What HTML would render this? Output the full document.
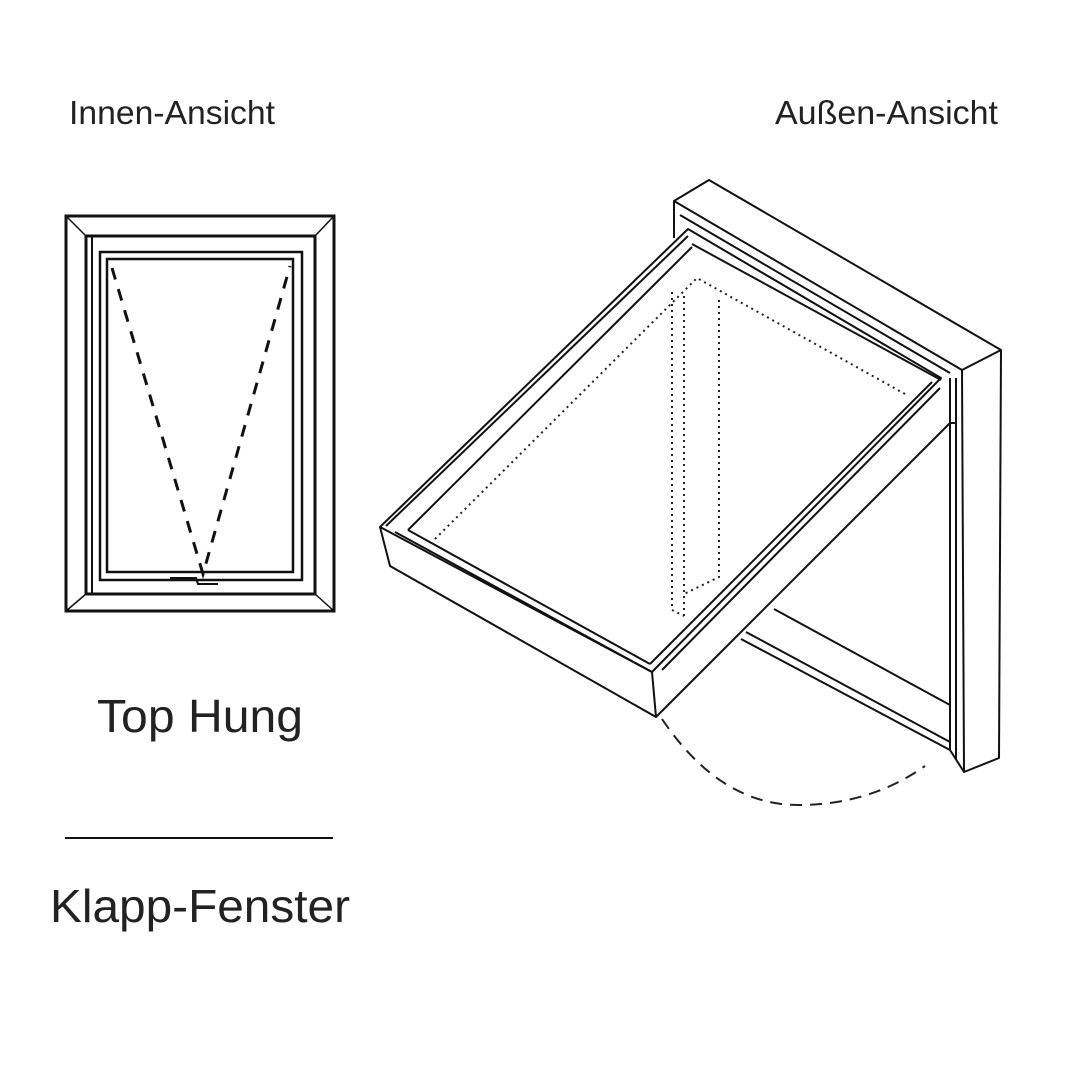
<!DOCTYPE html>
<html><head><meta charset="utf-8"><style>html,body{margin:0;padding:0;background:#fff}</style></head>
<body>
<svg width="1080" height="1080" viewBox="0 0 1080 1080" xmlns="http://www.w3.org/2000/svg" font-family="Liberation Sans, sans-serif">
<rect width="1080" height="1080" fill="#fff"/>
<g fill="#222">
<text x="69" y="124" font-size="33" textLength="206" lengthAdjust="spacingAndGlyphs">Innen-Ansicht</text>
<text x="775" y="124" font-size="33" textLength="223" lengthAdjust="spacingAndGlyphs">Außen-Ansicht</text>
<text x="97" y="732" font-size="46" textLength="206" lengthAdjust="spacingAndGlyphs">Top Hung</text>
<text x="50" y="922" font-size="46" textLength="300" lengthAdjust="spacingAndGlyphs">Klapp-Fenster</text>
</g>
<line x1="65" y1="838" x2="333" y2="838" stroke="#111" stroke-width="2"/>
<!-- left window -->
<g fill="none" stroke="#111" stroke-width="3">
<rect x="66" y="216" width="268" height="395"/>
<rect x="86" y="236" width="229" height="358"/>
<rect x="100" y="252" width="202" height="328" stroke-width="2.5"/>
<rect x="107" y="259" width="186" height="313" stroke-width="2.5"/>
<line x1="66" y1="216" x2="86" y2="236" stroke-width="1.5"/>
<line x1="334" y1="216" x2="315" y2="236" stroke-width="1.5"/>
<line x1="66" y1="611" x2="86" y2="594" stroke-width="1.5"/>
<line x1="334" y1="611" x2="315" y2="594" stroke-width="1.5"/>
<line x1="92" y1="236" x2="92" y2="594" stroke-width="2"/>
<path d="M112 268 L203 574 L290 266" stroke-dasharray="12 10" stroke-width="3"/>
<path d="M170 578 L196 578 L198 584 L218 584" stroke-width="2"/>
</g>
<!-- right: wall frame -->
<g fill="none" stroke="#111" stroke-width="2" stroke-linejoin="round">
<path d="M674 201 L709 180 L1001 350 L999 758 L964 772 L962 370 Z"/>
<line x1="962" y1="370" x2="1001" y2="350"/>
<line x1="674" y1="201" x2="674" y2="238"/>
<line x1="680" y1="215" x2="950" y2="373"/>
<line x1="692" y1="244" x2="941" y2="380"/>
<line x1="950" y1="378" x2="950" y2="750"/>
<line x1="956" y1="378" x2="956" y2="760"/>
<!-- frame bottom bar behind -->
<line x1="774" y1="609" x2="950" y2="705"/>
<line x1="741" y1="639" x2="950" y2="750"/>
<line x1="746" y1="632" x2="950" y2="742"/>
<line x1="950" y1="750" x2="964" y2="772"/>
<line x1="950" y1="423" x2="956" y2="423"/>
<!-- sash -->
<path d="M380 527 L688 229 L941 378 L652 672 Z"/>
<path d="M380 527 L390 566 L656 717 L652 672"/>
<line x1="656" y1="717" x2="950" y2="423"/>
<line x1="386" y1="526" x2="688" y2="236"/>
<line x1="408" y1="530" x2="692" y2="247"/>
<line x1="408" y1="530" x2="650" y2="664"/>
<line x1="650" y1="664" x2="932" y2="382"/>
<line x1="662" y1="670" x2="940" y2="388"/>
<line x1="395" y1="532" x2="652" y2="672"/>
</g>
<g fill="none" stroke="#222" stroke-width="2" stroke-dasharray="2 4">
<path d="M435 539 L697 278 L905 394"/>
<path d="M672 292 L672 610 L684 616 M684 296 L684 616 M719 300 L719 577 L684 594"/>
</g>
<path d="M662 719 Q720 805 798 805 Q870 805 925 766" fill="none" stroke="#222" stroke-width="2" stroke-dasharray="12 8"/>
</svg>
</body></html>
